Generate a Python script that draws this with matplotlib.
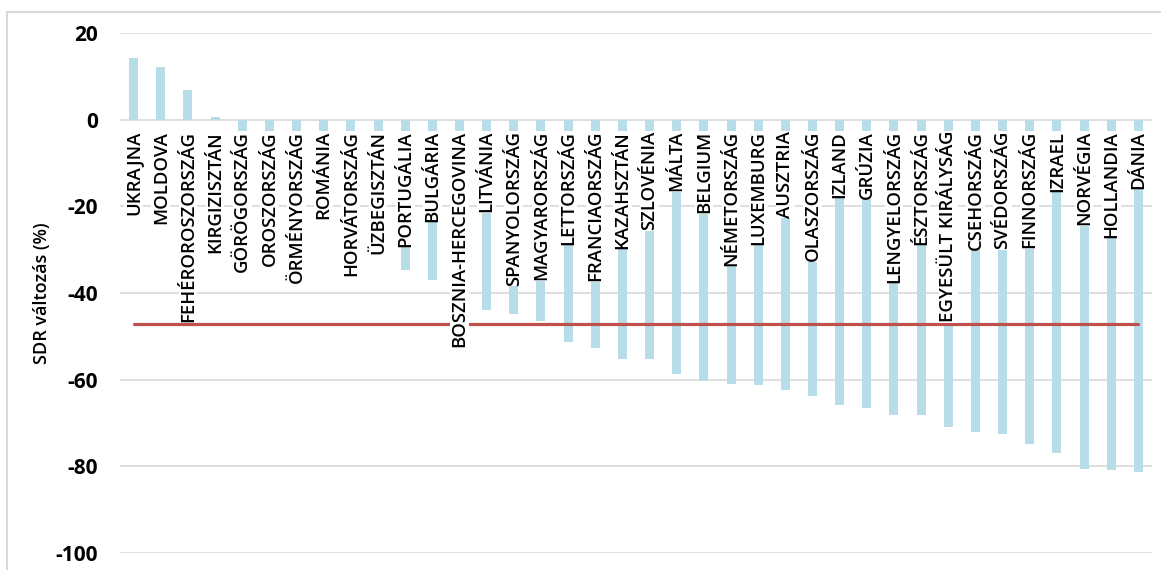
import numpy as np
import matplotlib.pyplot as plt
from matplotlib.patches import Rectangle

plt.rcParams['font.family'] = ['Open Sans', 'DejaVu Sans']
plt.rcParams['axes.unicode_minus'] = False

orszagok = ['UKRAJNA', 'MOLDOVA', 'FEHÉROROSZORSZÁG', 'KIRGIZISZTÁN', 'GÖRÖGORSZÁG',
            'OROSZORSZÁG', 'ÖRMÉNYORSZÁG', 'ROMÁNIA', 'HORVÁTORSZÁG', 'ÜZBEGISZTÁN',
            'PORTUGÁLIA', 'BULGÁRIA', 'BOSZNIA-HERCEGOVINA', 'LITVÁNIA', 'SPANYOLORSZÁG',
            'MAGYARORSZÁG', 'LETTORSZÁG', 'FRANCIAORSZÁG', 'KAZAHSZTÁN', 'SZLOVÉNIA',
            'MÁLTA', 'BELGIUM', 'NÉMETORSZÁG', 'LUXEMBURG', 'AUSZTRIA', 'OLASZORSZÁG',
            'IZLAND', 'GRÚZIA', 'LENGYELORSZÁG', 'ÉSZTORSZÁG', 'EGYESÜLT KIRÁLYSÁG',
            'CSEHORSZÁG', 'SVÉDORSZÁG', 'FINNORSZÁG', 'IZRAEL', 'NORVÉGIA', 'HOLLANDIA',
            'DÁNIA']
valtozas = [14.2, 12.1, 6.9, 0.6, -3.0, -6.0, -9.5, -13.0, -16.5, -20.0,
            -34.8, -37.1, -40.5, -44.0, -44.9, -46.5, -51.4, -52.8, -55.3, -55.3,
            -58.8, -60.2, -60.9, -61.2, -62.3, -63.7, -65.8, -66.5, -68.2, -68.2,
            -71.0, -72.0, -72.6, -74.9, -76.9, -80.6, -80.9, -81.4]
atlag = -47.2

x = np.arange(len(orszagok))

fig = plt.figure(figsize=(11.61, 5.70), dpi=100)
ax = fig.add_axes([0.1034, 0.0298, 0.8888, 0.9123])

# keret
fig.patches.append(Rectangle((7 / 1161, -0.1), 1.2, 1.1 - 12 / 570,
                             transform=fig.transFigure, fill=False,
                             edgecolor='#d9d9d9', lw=1.5, zorder=0))

ax.bar(x, valtozas, width=0.33, color='#b7dde8', zorder=2)
ax.plot([x[0], x[-1]], [atlag, atlag], color='#c0504d', lw=2.3, zorder=3,
        solid_capstyle='round')

for i, nev in enumerate(orszagok):
    ax.text(i, -2.6, nev, rotation=90, ha='center', va='top', fontsize=13.3,
            fontweight='semibold', zorder=5,
            bbox=dict(facecolor='white', edgecolor='none', pad=0.2))

ax.set_xlim(-0.5, len(orszagok) - 0.5)
ax.set_ylim(-100, 20)
ax.set_yticks(np.arange(-100, 21, 20))
ax.set_xticks([])
ax.yaxis.grid(True, color='#d9d9d9', lw=1.2, zorder=0)
ax.set_axisbelow(True)
ax.tick_params(axis='y', length=0, pad=16, labelsize=15)
for lbl in ax.get_yticklabels():
    lbl.set_fontweight('bold')
for s in ax.spines.values():
    s.set_visible(False)
ax.set_ylabel('SDR változás (%)', fontsize=13, fontweight='semibold', labelpad=3)

fig.savefig('out.png', dpi=100)
